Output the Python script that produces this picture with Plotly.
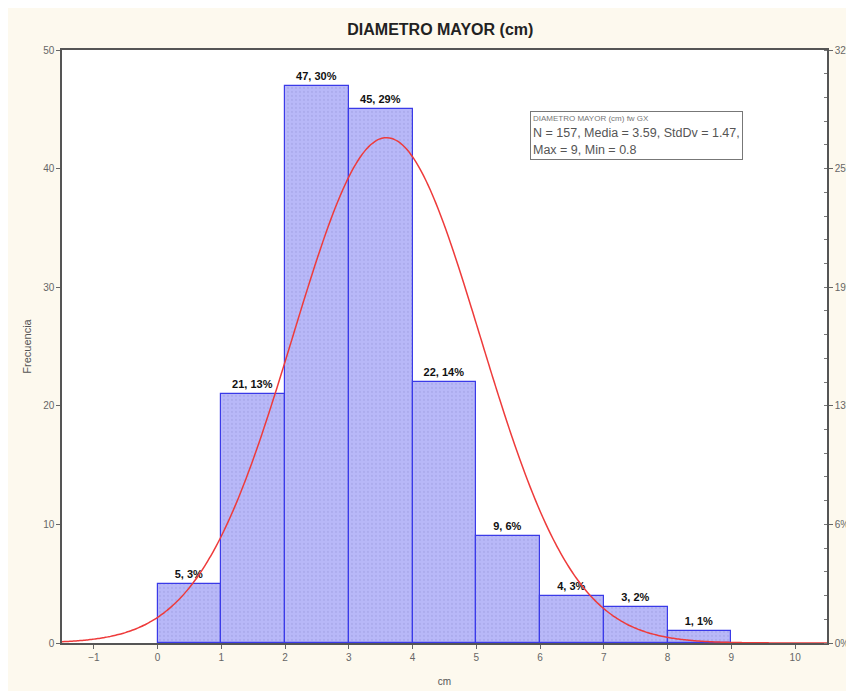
import numpy as np
import plotly.graph_objects as go

# Data
bin_left = [0, 1, 2, 3, 4, 5, 6, 7, 8]
counts = [5, 21, 47, 45, 22, 9, 4, 3, 1]
pct_labels = ["3%", "13%", "30%", "29%", "14%", "6%", "3%", "2%", "1%"]
x_ticks = [-1, 0, 1, 2, 3, 4, 5, 6, 7, 8, 9, 10]
y_ticks = [0, 10, 20, 30, 40, 50]
y2_ticktext = ["0%", "6%", "13%", "19%", "25%", "32%"]

# Fitted normal parameters shown in the legend box
N = 157
mean = 3.59
std = 1.47
bin_width = 1.0

centers = [b + 0.5 for b in bin_left]
labels = [f"{c}, {p}" for c, p in zip(counts, pct_labels)]

xc = np.linspace(-1.5, 10.5, 300)
yc = N * bin_width / (std * np.sqrt(2 * np.pi)) * np.exp(-((xc - mean) ** 2) / (2 * std ** 2))

fig = go.Figure()
fig.add_trace(go.Bar(
    x=centers, y=counts, width=1.0,
    marker=dict(color="#b6b6f6", line=dict(color="#3a3ae8", width=1.2),
                pattern=dict(shape=".", fgcolor="#a0a0e4", bgcolor="#b8b8f8", size=4, solidity=0.25)),
    text=labels, textposition="outside", cliponaxis=False,
    textfont=dict(family="Liberation Sans, Arial", size=11, color="#111"),
    texttemplate="<b>%{text}</b>", showlegend=False,
))
fig.add_trace(go.Scatter(
    x=xc, y=yc, mode="lines", line=dict(color="#ee3b3b", width=1.5, shape="spline"),
    showlegend=False,
))
fig.add_trace(go.Scatter(x=[0], y=[0], yaxis="y2", mode="markers",
                         marker=dict(opacity=0), showlegend=False, hoverinfo="skip"))

tickfont = dict(family="Liberation Sans, Arial", size=10, color="#666")
fig.update_layout(
    width=846, height=683,
    margin=dict(l=54, r=27, t=42, b=48, autoexpand=False),
    paper_bgcolor="#fdf9ee", plot_bgcolor="#ffffff",
    bargap=0,
    title=dict(text="<b>DIAMETRO MAYOR (cm)</b>", x=0.511, xanchor="center", y=0.968, yanchor="middle",
               font=dict(family="Liberation Sans, Arial", size=16, color="#222")),
    xaxis=dict(range=[-1.5, 10.5], tickvals=x_ticks, ticks="outside", ticklen=4, tickcolor="#666",
               showgrid=False, zeroline=False, showline=True, linecolor="#555", linewidth=1.5, mirror=True,
               tickfont=tickfont, automargin=False,
               title=dict(text="cm", font=dict(family="Liberation Sans, Arial", size=10, color="#555"), standoff=16)),
    yaxis=dict(range=[0, 50], tickvals=y_ticks, ticks="outside", ticklen=4, tickcolor="#666",
               showgrid=False, zeroline=False, showline=True, linecolor="#555", linewidth=1.5,
               tickfont=tickfont, automargin=False,
               title=dict(text="Frecuencia", font=dict(family="Liberation Sans, Arial", size=11, color="#555"), standoff=9)),
    yaxis2=dict(range=[0, 50], overlaying="y", side="right", tickvals=y_ticks, ticktext=y2_ticktext,
                ticks="outside", ticklen=4, tickcolor="#666", showgrid=False, zeroline=False,
                showline=True, linecolor="#555", linewidth=1.5, tickfont=tickfont, automargin=False,
                minor=dict(dtick=2, ticks="inside", ticklen=3, tickcolor="#777", showgrid=False)),
    annotations=[dict(
        x=0.612, y=0.897, xref="paper", yref="paper", xanchor="left", yanchor="top", align="left",
        text="<span style='font-size:8px;color:#777'>DIAMETRO MAYOR (cm) fw GX</span><br>"
             "N = 157, Media = 3.59, StdDv = 1.47,<br>Max = 9, Min = 0.8",
        showarrow=False, bgcolor="#ffffff", bordercolor="#777", borderwidth=1, borderpad=2,
        font=dict(family="Liberation Sans, Arial", size=12.5, color="#555"),
    )],
)

fig.write_html("out.html")
